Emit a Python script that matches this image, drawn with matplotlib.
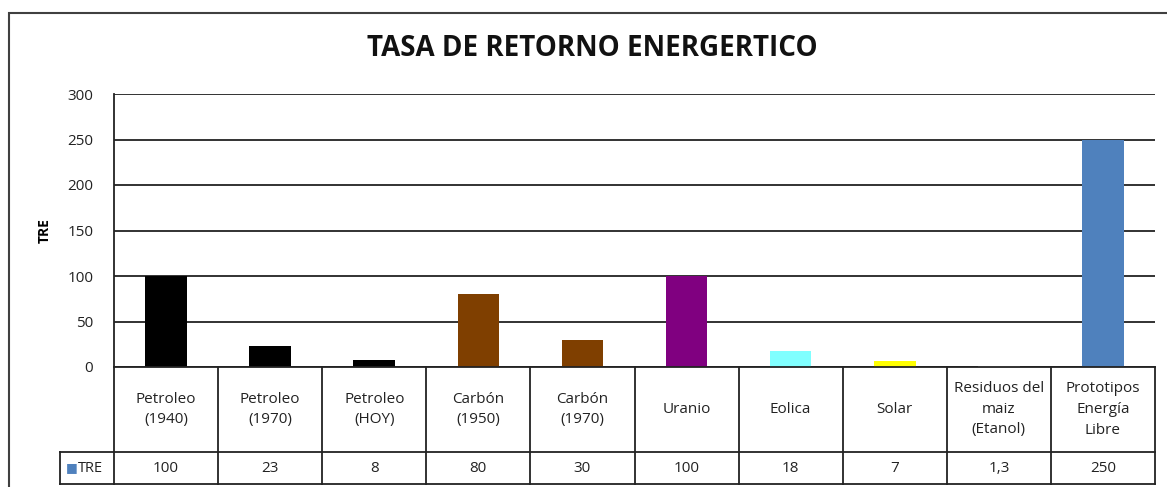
import matplotlib.pyplot as plt
from matplotlib.patches import Rectangle
import matplotlib.transforms as mtransforms

categories = ["Petroleo\n(1940)", "Petroleo\n(1970)", "Petroleo\n(HOY)", "Carbón\n(1950)",
              "Carbón\n(1970)", "Uranio", "Eolica", "Solar", "Residuos del\nmaiz\n(Etanol)",
              "Prototipos\nEnergía\nLibre"]
values = [100, 23, 8, 80, 30, 100, 18, 7, 1.3, 250]
value_labels = ["100", "23", "8", "80", "30", "100", "18", "7", "1,3", "250"]
colors = ["#000000", "#000000", "#000000", "#7F3F00", "#7F3F00", "#800080",
          "#80FFFF", "#FFFF00", "#FFFFFF", "#4F81BD"]
yticks = [0, 50, 100, 150, 200, 250, 300]

W, H = 1167, 487
fig = plt.figure(figsize=(W / 100, H / 100), dpi=100)
plt.rcParams['font.family'] = ['Open Sans', 'DejaVu Sans']

# outer chart frame (cut off at right / bottom like the reference)
fig.patches.append(Rectangle((9 / W, -0.1), 1.2, (H - 13) / H + 0.1, transform=fig.transFigure,
                             fill=False, edgecolor="#404040", lw=1.5))

ax = fig.add_axes([114 / W, 120 / H, (1155 - 114) / W, 273 / H])
x = list(range(len(values)))
ax.bar(x, values, width=0.4, color=colors, zorder=3)
ax.set_xlim(-0.5, len(values) - 0.5)
ax.set_ylim(0, 300)
ax.set_yticks(yticks)
ax.set_yticklabels([str(t) for t in yticks], fontsize=11, color="#222222")
ax.tick_params(axis="y", length=0, pad=15)
ax.set_xticks([])
for s in ["top", "right", "bottom"]:
    ax.spines[s].set_visible(False)
ax.spines["left"].set_linewidth(1.3)
ax.spines["left"].set_color("#222222")
ax.yaxis.grid(True, color="#222222", lw=1.3, zorder=0)
ax.set_axisbelow(True)
ax.set_ylabel("TRE", fontsize=10, fontweight="bold")
ax.yaxis.set_label_coords((52 - 114) / (1155 - 114), 0.5)

fig.text(592 / W, 1 - 49 / H, "TASA DE RETORNO ENERGERTICO", ha="center", va="center",
         fontsize=20, fontweight="bold", color="#111111")

# data table below the axis
tr = mtransforms.blended_transform_factory(ax.transData, ax.transAxes)
row1 = -85 / 273
row2 = -117 / 273
legend_left = -0.5 - (114 - 60) / ((1155 - 114) / len(values))
lc = "#222222"
lw = 1.3
n = len(values)
ax.plot([-0.5, n - 0.5], [0, 0], transform=tr, color=lc, lw=lw, clip_on=False, zorder=4)
ax.plot([legend_left, n - 0.5], [row1, row1], transform=tr, color=lc, lw=lw, clip_on=False)
ax.plot([legend_left, n - 0.5], [row2, row2], transform=tr, color=lc, lw=lw, clip_on=False)
ax.plot([legend_left, legend_left], [row1, row2], transform=tr, color=lc, lw=lw, clip_on=False)
for i in range(n + 1):
    ax.plot([i - 0.5, i - 0.5], [0, row2], transform=tr, color=lc, lw=lw, clip_on=False)
for i in range(n):
    ax.text(i, row1 / 2, categories[i], transform=tr, ha="center", va="center",
            fontsize=11, color="#222222", linespacing=1.5)
    ax.text(i, (row1 + row2) / 2, value_labels[i], transform=tr, ha="center", va="center",
            fontsize=11, color="#222222")
ax.text(legend_left + 0.06, (row1 + row2) / 2, "■", transform=tr, ha="left", va="center",
        fontsize=9, color="#4F81BD", family=["DejaVu Sans"])
ax.text(legend_left + 0.17, (row1 + row2) / 2, "TRE", transform=tr, ha="left", va="center",
        fontsize=10.5, color="#222222")

fig.savefig("out.png", dpi=100)
